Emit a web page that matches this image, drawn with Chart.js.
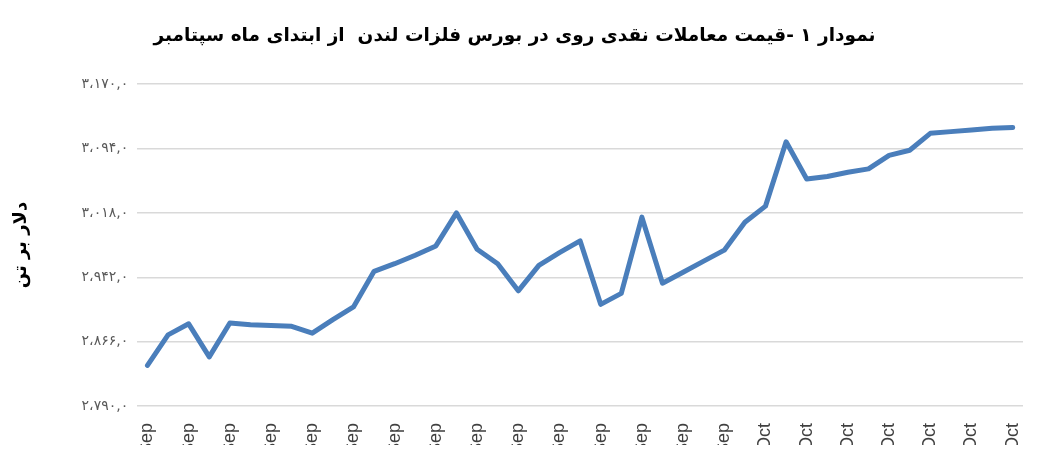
<!DOCTYPE html>
<html>
<head>
<meta charset="utf-8">
<script src="https://cdn.jsdelivr.net/npm/chart.js@4/dist/chart.umd.min.js"></script>
<style>
  html, body { margin: 0; padding: 0; background: #fff; }
  #wrap { width: 1049px; height: 445px; overflow: hidden; }
  #box { width: 1049px; height: 490px; position: relative; }
</style>
</head>
<body>
<div id="wrap"><div id="box"><canvas id="zincChart"></canvas></div></div>
<script>
const days = [
  '1-Sep', '2-Sep', '3-Sep', '4-Sep', '5-Sep', '6-Sep', '7-Sep', '8-Sep', '9-Sep', '10-Sep',
  '11-Sep', '12-Sep', '13-Sep', '14-Sep', '15-Sep', '16-Sep', '17-Sep', '18-Sep', '19-Sep', '20-Sep',
  '21-Sep', '22-Sep', '23-Sep', '24-Sep', '25-Sep', '26-Sep', '27-Sep', '28-Sep', '29-Sep', '30-Sep',
  '1-Oct', '2-Oct', '3-Oct', '4-Oct', '5-Oct', '6-Oct', '7-Oct', '8-Oct', '9-Oct', '10-Oct',
  '11-Oct', '12-Oct', '13-Oct'
];

const zincPrice = [
  2838, 2874, 2887, 2848, 2888, 2886, 2885, 2884, 2876, 2892,
  2907, 2949, 2958, 2968, 2979, 3018, 2975, 2958, 2926, 2956,
  2971, 2985, 2910, 2923, 3013, 2935, 2948, 2961, 2974, 3007,
  3026, 3102, 3058, 3061, 3066, 3070, 3086, 3092, 3112, 3114,
  3116, 3118, 3119
];

const yTickValues = [2790, 2866, 2942, 3018, 3094, 3170];
const yTickLabels = ['۲،۷۹۰,۰', '۲،۸۶۶,۰', '۲،۹۴۲,۰', '۳،۰۱۸,۰', '۳،۰۹۴,۰', '۳،۱۷۰,۰'];

const chartTitle = 'نمودار ۱ -قیمت معاملات نقدی روی در بورس فلزات لندن  از ابتدای ماه سپتامبر';
const yTitle = 'دلار بر تن';

const ctx = document.getElementById('zincChart');

new Chart(ctx, {
  type: 'line',
  data: {
    labels: days,
    datasets: [{
      label: 'zinc',
      data: zincPrice,
      borderColor: '#4a7ebb',
      borderWidth: 5,
      pointRadius: 0,
      tension: 0,
      borderJoinStyle: 'round',
      borderCapStyle: 'round'
    }]
  },
  options: {
    responsive: true,
    maintainAspectRatio: false,
    animation: false,
    layout: {
      padding: { left: 6, right: 26, top: 0, bottom: 0 }
    },
    plugins: {
      legend: { display: false },
      tooltip: { enabled: false },
      title: {
        display: true,
        text: chartTitle,
        color: '#000',
        font: { family: 'DejaVu Sans', size: 18.5, weight: 'bold' },
        padding: { top: 25, bottom: 37 }
      }
    },
    scales: {
      x: {
        offset: true,
        grid: { display: false },
        border: { display: false },
        ticks: {
          autoSkip: false,
          minRotation: 90,
          maxRotation: 90,
          padding: 9,
          color: '#404040',
          font: { family: 'Liberation Sans', size: 18 },
          callback: function (v, i) { return i % 2 === 0 ? days[i] : ''; }
        }
      },
      y: {
        min: 2790,
        max: 3170,
        afterBuildTicks: function (axis) {
          axis.ticks = yTickValues.map(v => ({ value: v }));
        },
        grid: { color: '#d9d9d9', lineWidth: 1.5, drawTicks: false },
        border: { display: false },
        title: {
          display: true,
          text: yTitle,
          color: '#000',
          font: { family: 'DejaVu Sans', size: 18, weight: 'bold' },
          padding: { top: 5, bottom: 40 }
        },
        ticks: {
          padding: 9,
          color: '#595959',
          font: { family: 'DejaVu Sans', size: 14 },
          callback: function (v) { return yTickLabels[yTickValues.indexOf(v)]; }
        }
      }
    }
  }
});
</script>
</body>
</html>
